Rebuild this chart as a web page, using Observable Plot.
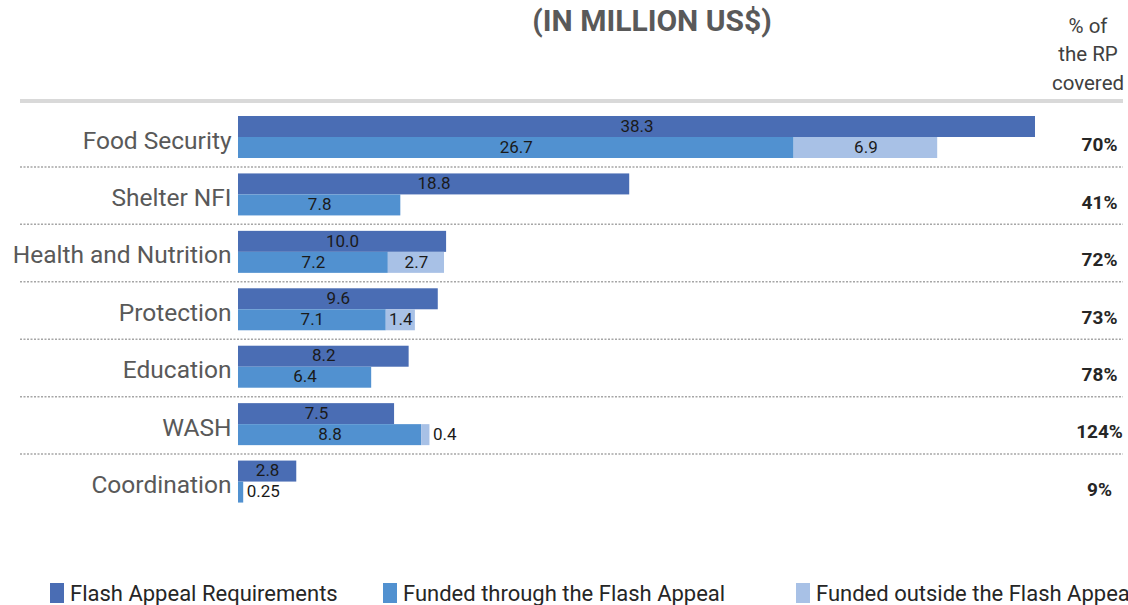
<!DOCTYPE html>
<html>
<head>
<meta charset="utf-8">
<script src="https://cdn.jsdelivr.net/npm/d3@7"></script>
<script src="https://cdn.jsdelivr.net/npm/@observablehq/plot@0.6"></script>
<style>
  html, body { margin: 0; padding: 0; background: #fff; overflow: hidden; width: 1128px; height: 605px; }
  body { position: relative; font-family: Roboto, "Noto Sans", sans-serif; }
  #chart { position: absolute; left: 0; top: 0; }
  .title { position: absolute; left: 652px; top: 6px; transform: translateX(-50%); font-size: 30px; line-height: 30px; font-weight: bold; color: #595959; white-space: nowrap; }
  .hdr { position: absolute; left: 1088px; top: 11.5px; transform: translateX(-50%); font-size: 20.5px; line-height: 28.5px; color: #404040; text-align: center; white-space: nowrap; }
  .topline { position: absolute; left: 20px; top: 99px; width: 1103px; height: 4px; background: #d9d9d9; }
  .leg { position: absolute; top: 582.5px; font-size: 22px; line-height: 22px; color: #262626; white-space: nowrap; }
  .sw { position: absolute; top: 583px; width: 14px; height: 20px; }
</style>
</head>
<body>
<div id="chart"></div>
<script>
const categories = ["Food Security", "Shelter NFI", "Health and Nutrition", "Protection", "Education", "WASH", "Coordination"];
const requirements = [38.3, 18.8, 10.0, 9.6, 8.2, 7.5, 2.8];
const fundedThrough = [26.7, 7.8, 7.2, 7.1, 6.4, 8.8, 0.25];
const fundedOutside = [6.9, 0, 2.7, 1.4, 0, 0.4, 0];
const coverage = ["70%", "41%", "72%", "73%", "78%", "124%", "9%"];
const seriesNames = ["Flash Appeal Requirements", "Funded through the Flash Appeal", "Funded outside the Flash Appeal"];
const seriesColors = ["#4a6db4", "#5191d0", "#a8c1e6"];
const titleText = "(IN MILLION US$)";
const headerLines = ["% of", "the RP", "covered"];

const W = 1128, H = 605, mTop = 109, mBottom = 94, mLeft = 20, mRight = 5;
const bw = (H - mTop - mBottom) / categories.length;

const fmt = v => Number.isInteger(Math.round(v * 100) / 10) ? v.toFixed(1) : String(v);

const reqRows = categories.map((c, i) => ({cat: c, value: requirements[i], cov: coverage[i]}));
const fundLong = categories.flatMap((c, i) => [
  {cat: c, type: seriesNames[1], value: fundedThrough[i]},
  {cat: c, type: seriesNames[2], value: fundedOutside[i]}
]).filter(d => d.value > 0);

const reqTop = 7, reqH = 21, fundH = 21;
const valFont = 17;

const chart = Plot.plot({
  width: W, height: H,
  marginTop: mTop, marginBottom: mBottom, marginLeft: mLeft, marginRight: mRight,
  style: {fontFamily: 'Roboto, "Noto Sans", sans-serif', background: "transparent"},
  x: {domain: [0, d3.max(requirements)], range: [238, 1035], axis: null},
  y: {domain: categories, padding: 0, round: false, axis: null},
  color: {domain: seriesNames, range: seriesColors},
  marks: [
    Plot.ruleY(categories.slice(0, -1), {dy: bw / 2, stroke: "#a6a6a6", strokeWidth: 1.5, strokeDasharray: "2,1.5"}),
    Plot.barX(reqRows, {x: "value", y: "cat", fill: seriesColors[0], insetTop: reqTop, insetBottom: bw - reqTop - reqH}),
    Plot.barX(fundLong, Plot.stackX({x: "value", y: "cat", fill: "type", insetTop: reqTop + reqH, insetBottom: bw - reqTop - reqH - fundH})),
    Plot.text(reqRows, Plot.stackX({x: "value", y: "cat", text: d => fmt(d.value), fontSize: valFont, fill: "#1a1a1a", dy: -12})),
    Plot.text(fundLong, Plot.stackX({x: "value", y: "cat", text: d => d.value >= 1 ? fmt(d.value) : null, fontSize: valFont, fill: "#1a1a1a", dy: 9})),
    Plot.text(fundLong, Plot.stackX2({x: "value", y: "cat", text: d => d.value < 1 ? fmt(d.value) : null, fontSize: valFont, fill: "#1a1a1a", textAnchor: "start", dx: 3, dy: 9})),
    Plot.text(reqRows, {x: 0, y: "cat", text: "cat", textAnchor: "end", dx: -7, dy: 2.5, fontSize: 24.5, fill: "#595959"}),
    Plot.text(reqRows, {y: "cat", text: "cov", frameAnchor: "right", textAnchor: "middle", dx: -24, dy: 7, fontSize: 19, fontWeight: "bold", fill: "#262626"})
  ]
});
document.getElementById("chart").appendChild(chart);

const body = document.body;
const t = document.createElement("div"); t.className = "title"; t.textContent = titleText; body.appendChild(t);
const h = document.createElement("div"); h.className = "hdr"; h.innerHTML = headerLines.join("<br>"); body.appendChild(h);
const tl = document.createElement("div"); tl.className = "topline"; body.appendChild(tl);
const legX = [50, 383, 796];
seriesNames.forEach((n, i) => {
  const s = document.createElement("div"); s.className = "sw"; s.style.left = legX[i] + "px"; s.style.background = seriesColors[i]; body.appendChild(s);
  const l = document.createElement("div"); l.className = "leg"; l.style.left = (legX[i] + 20) + "px"; l.textContent = n; body.appendChild(l);
});
</script>
</body>
</html>
